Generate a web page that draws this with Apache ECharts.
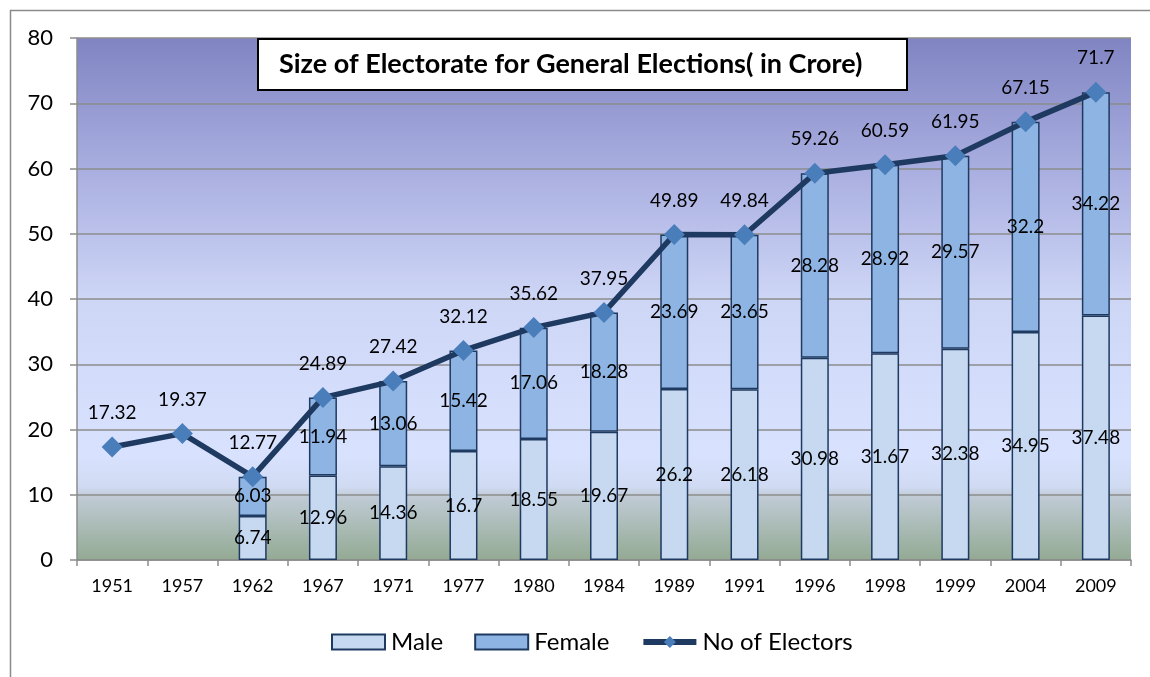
<!DOCTYPE html>
<html><head><meta charset="utf-8">
<script src="https://cdn.jsdelivr.net/npm/echarts@6/dist/echarts.min.js"></script>
<style>html,body{margin:0;padding:0;background:#fff}#c{width:1150px;height:677px}</style>
</head><body><div id="c"></div>
<script>
const years = ['1951','1957','1962','1967','1971','1977','1980','1984','1989','1991','1996','1998','1999','2004','2009'];
const male = [null,null,6.74,12.96,14.36,16.7,18.55,19.67,26.2,26.18,30.98,31.67,32.38,34.95,37.48];
const female = [null,null,6.03,11.94,13.06,15.42,17.06,18.28,23.69,23.65,28.28,28.92,29.57,32.2,34.22];
const electors = [17.32,19.37,12.77,24.89,27.42,32.12,35.62,37.95,49.89,49.84,59.26,60.59,61.95,67.15,71.7];
const titleText = 'Size of Electorate for General Elections( in Crore)';

const FONT = 'Lato';
const chart = echarts.init(document.getElementById('c'));
const barLabel = {show:true, position:'inside', color:'#000', fontSize:19, fontFamily:FONT};
chart.setOption({
  animation:false,
  textStyle:{fontFamily:FONT},
  grid:{left:77, right:19, top:38, bottom:117, show:true, borderWidth:0,
    backgroundColor:{type:'linear', x:0, y:0, x2:0, y2:1, colorStops:[
      {offset:0, color:'#8084c2'},
      {offset:0.25, color:'#a9aee0'},
      {offset:0.5, color:'#ced6f6'},
      {offset:0.8, color:'#d8e2fe'},
      {offset:0.86, color:'#d0daf2'},
      {offset:0.88, color:'#bfcad4'},
      {offset:1, color:'#93aa93'}]}},
  xAxis:{type:'category', data:years,
    axisLine:{lineStyle:{color:'#8c8c8c', width:1.5}},
    axisTick:{show:true, length:6, lineStyle:{color:'#8c8c8c', width:1.5}},
    axisLabel:{color:'#000', fontSize:18, margin:17, fontFamily:FONT}},
  yAxis:{type:'value', min:0, max:80, interval:10,
    axisLine:{show:true, lineStyle:{color:'#8c8c8c', width:1.5}},
    axisTick:{show:true, length:7, lineStyle:{color:'#8c8c8c', width:1.5}},
    splitLine:{lineStyle:{color:'#8c8c8c', width:1.5}},
    axisLabel:{color:'#000', fontSize:22, margin:24, fontFamily:FONT}},
  legend:{top:625, left:326, itemGap:31, itemWidth:53, itemHeight:15,
    textStyle:{fontSize:24, color:'#000', fontFamily:FONT, padding:[0,0,0,1]},
    data:[{name:'Male', icon:'rect'},{name:'Female', icon:'rect'},
      {name:'No of Electors', lineStyle:{width:6, color:'#1f3a60'}}]},
  series:[
    {name:'Male', type:'bar', stack:'t', data:male, barWidth:28,
      itemStyle:{color:'#c6d9f1', borderColor:'#1f3a60', borderWidth:1.5},
      label:barLabel},
    {name:'Female', type:'bar', stack:'t', data:female, barWidth:28,
      itemStyle:{color:'#8eb4e3', borderColor:'#1f3a60', borderWidth:1.5},
      label:barLabel},
    {name:'No of Electors', type:'line', data:electors, symbol:'diamond', symbolSize:21,
      lineStyle:{color:'#1f3a60', width:5.5},
      itemStyle:{color:'#4a7ebb'},
      label:{show:true, position:'top', distance:14, color:'#000', fontSize:19, fontFamily:FONT}}
  ],
  graphic:[
    {type:'rect', left:8, top:8, shape:{width:1200, height:700}, style:{fill:'none', stroke:'#8a8a8a', lineWidth:1.5}, z:-10},
    {type:'rect', left:257, top:38, shape:{width:649, height:51}, style:{fill:'#fff', stroke:'#000', lineWidth:2}, z:100},
    {type:'text', left:279, top:51, style:{text:titleText, font:'bold 27px Lato', fill:'#000'}, z:101}
  ]
});
</script></body></html>
